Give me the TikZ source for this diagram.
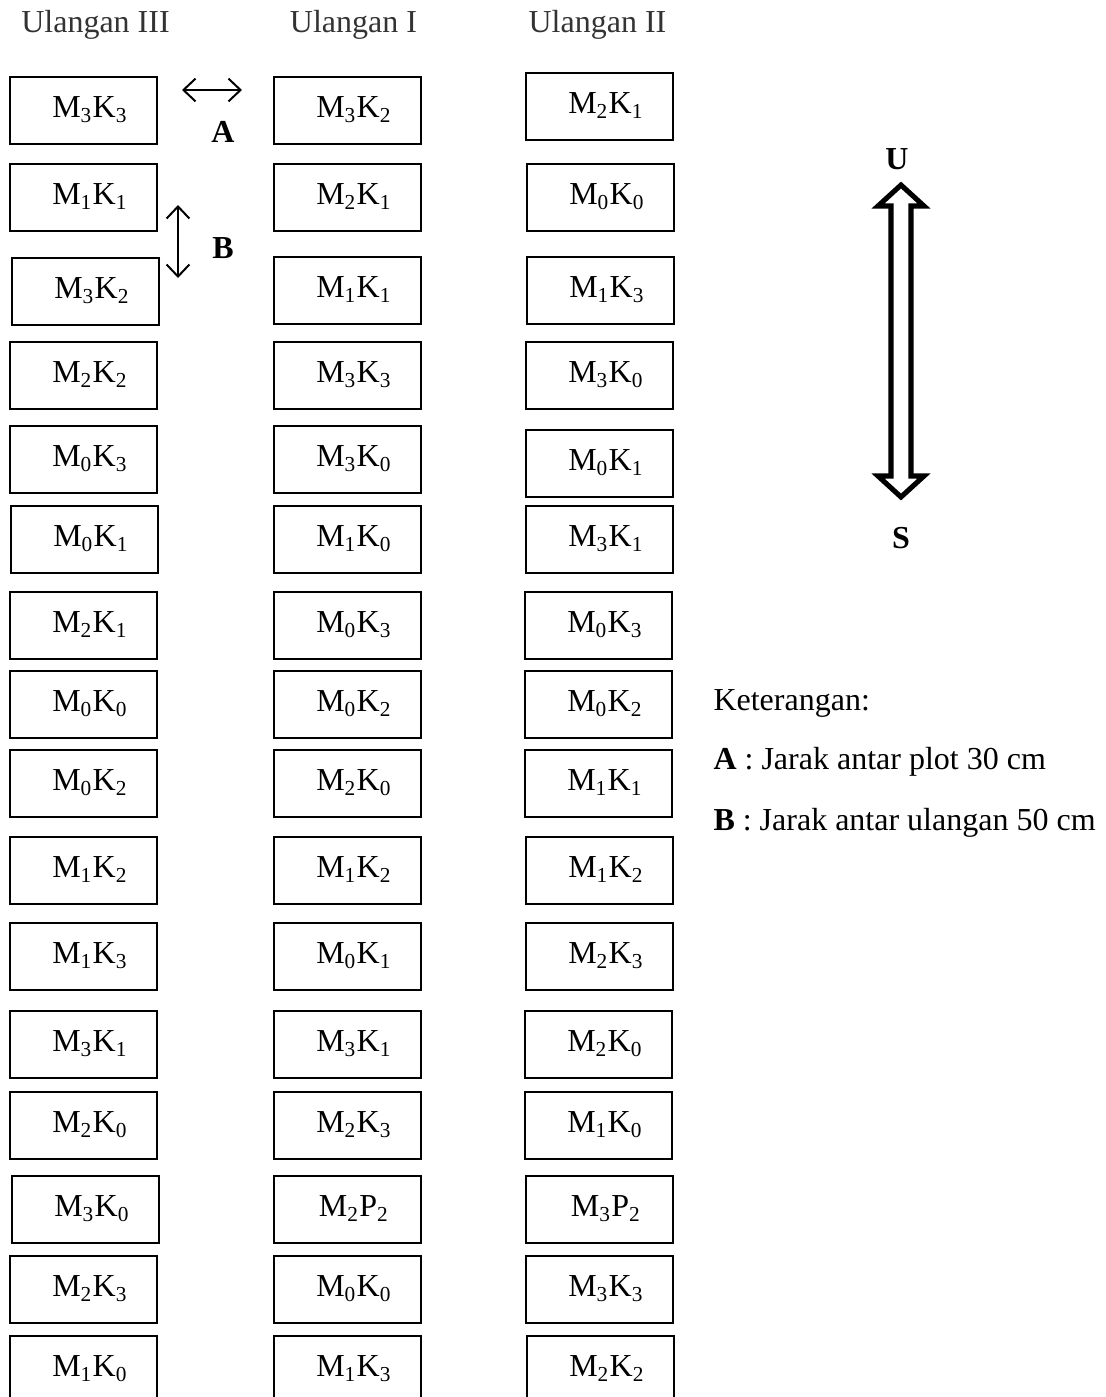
\documentclass[tikz,border=0pt]{standalone}
\usepackage{fontspec}
\setmainfont{Liberation Serif}
\usetikzlibrary{arrows.meta}
\newcommand\mk[3]{M\textsubscript{#1}#2\textsubscript{#3}}
\newcommand\plt[4]{\node[plotbox] (#1) at ({#2+74.5},{#3+34.5}) {\hspace*{4.9pt}#4};}
\begin{document}
\begin{tikzpicture}[x=0.375pt,y=-0.375pt,
  plotbox/.style={draw, line width=0.75pt, inner sep=0pt, minimum width=55.1pt,
    minimum height=25.1pt, text height=8pt, text depth=2.75pt,
    font=\fontsize{12}{14}\selectfont},
  headtxt/.style={anchor=base, font=\fontsize{12}{14}\selectfont, text=black!80},
  keytxt/.style={anchor=base west, inner sep=0pt, font=\fontsize{12}{14}\selectfont},
  boldtxt/.style={anchor=base, inner sep=0pt, font=\fontsize{12}{14}\selectfont\bfseries},
  dimarrow/.style={{Straight Barb[length=4.5pt,width=8.5pt]}-{Straight Barb[length=4.5pt,width=8.5pt]}, line width=0.75pt},
  northarrow/.style={draw, line width=1.9pt, miter limit=10, fill=white}
]
\clip (0,0) rectangle (1106,1397);
% headers
\node[headtxt] (h3) at (95.5,32) {Ulangan III};
\node[headtxt] (h1) at (353.5,32) {Ulangan I};
\node[headtxt] (h2) at (597.5,32) {Ulangan II};
% column Ulangan III (x left = 9)
\plt{a1}{9}{76}{\mk{3}{K}{3}}
\plt{a2}{9}{163}{\mk{1}{K}{1}}
\plt{a3}{11}{257}{\mk{3}{K}{2}}
\plt{a4}{9}{341}{\mk{2}{K}{2}}
\plt{a5}{9}{425}{\mk{0}{K}{3}}
\plt{a6}{10}{505}{\mk{0}{K}{1}}
\plt{a7}{9}{591}{\mk{2}{K}{1}}
\plt{a8}{9}{670}{\mk{0}{K}{0}}
\plt{a9}{9}{749}{\mk{0}{K}{2}}
\plt{a10}{9}{836}{\mk{1}{K}{2}}
\plt{a11}{9}{922}{\mk{1}{K}{3}}
\plt{a12}{9}{1010}{\mk{3}{K}{1}}
\plt{a13}{9}{1091}{\mk{2}{K}{0}}
\plt{a14}{11}{1175}{\mk{3}{K}{0}}
\plt{a15}{9}{1255}{\mk{2}{K}{3}}
\plt{a16}{9}{1335}{\mk{1}{K}{0}}
% column Ulangan I (x left = 273)
\plt{b1}{273}{76}{\mk{3}{K}{2}}
\plt{b2}{273}{163}{\mk{2}{K}{1}}
\plt{b3}{273}{256}{\mk{1}{K}{1}}
\plt{b4}{273}{341}{\mk{3}{K}{3}}
\plt{b5}{273}{425}{\mk{3}{K}{0}}
\plt{b6}{273}{505}{\mk{1}{K}{0}}
\plt{b7}{273}{591}{\mk{0}{K}{3}}
\plt{b8}{273}{670}{\mk{0}{K}{2}}
\plt{b9}{273}{749}{\mk{2}{K}{0}}
\plt{b10}{273}{836}{\mk{1}{K}{2}}
\plt{b11}{273}{922}{\mk{0}{K}{1}}
\plt{b12}{273}{1010}{\mk{3}{K}{1}}
\plt{b13}{273}{1091}{\mk{2}{K}{3}}
\plt{b14}{273}{1175}{\mk{2}{P}{2}}
\plt{b15}{273}{1255}{\mk{0}{K}{0}}
\plt{b16}{273}{1335}{\mk{1}{K}{3}}
% column Ulangan II (x left = 525)
\plt{c1}{525}{72}{\mk{2}{K}{1}}
\plt{c2}{526}{163}{\mk{0}{K}{0}}
\plt{c3}{526}{256}{\mk{1}{K}{3}}
\plt{c4}{525}{341}{\mk{3}{K}{0}}
\plt{c5}{525}{429}{\mk{0}{K}{1}}
\plt{c6}{525}{505}{\mk{3}{K}{1}}
\plt{c7}{524}{591}{\mk{0}{K}{3}}
\plt{c8}{524}{670}{\mk{0}{K}{2}}
\plt{c9}{524}{749}{\mk{1}{K}{1}}
\plt{c10}{525}{836}{\mk{1}{K}{2}}
\plt{c11}{525}{922}{\mk{2}{K}{3}}
\plt{c12}{524}{1010}{\mk{2}{K}{0}}
\plt{c13}{524}{1091}{\mk{1}{K}{0}}
\plt{c14}{525}{1175}{\mk{3}{P}{2}}
\plt{c15}{525}{1255}{\mk{3}{K}{3}}
\plt{c16}{526}{1335}{\mk{2}{K}{2}}
% dimension arrows A and B
\coordinate (aL) at (182,90);
\coordinate (aR) at (242,90);
\draw[dimarrow] (aL) -- (aR);
\node[boldtxt] (labA) at (223,142) {A};
\coordinate (bT) at (178,205);
\coordinate (bB) at (178,278);
\draw[dimarrow] (bT) -- (bB);
\node[boldtxt] (labB) at (223,258) {B};
% north-south arrow
\node[boldtxt] (labU) at (897,169) {U};
\node[boldtxt] (labS) at (901,548) {S};
\draw[northarrow] (901,185) -- (924,206) -- (911,206) -- (911,476) -- (924,476)
  -- (901,497) -- (878,476) -- (891,476) -- (891,206) -- (878,206) -- cycle;
% legend
\node[keytxt] (ket) at (713,710) {Keterangan:};
\node[keytxt] (ketA) at (713,769) {\textbf{A} : Jarak antar plot 30 cm};
\node[keytxt] (ketB) at (713,830) {\textbf{B} : Jarak antar ulangan 50 cm};
\end{tikzpicture}
\end{document}
